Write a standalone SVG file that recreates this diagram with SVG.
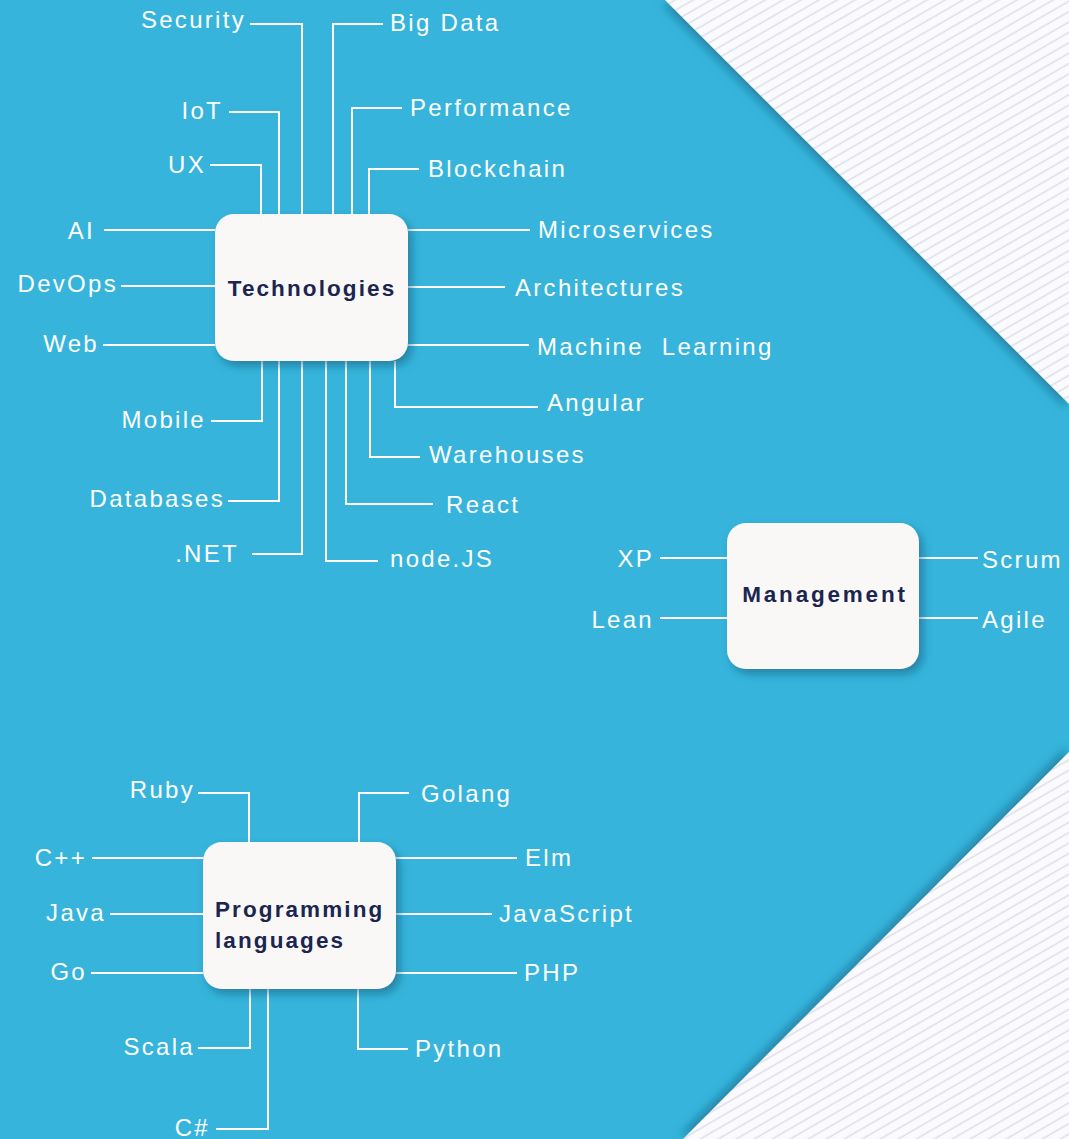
<svg xmlns="http://www.w3.org/2000/svg" width="1069" height="1139" viewBox="0 0 1069 1139">
<defs>
<pattern id="stripes" width="9" height="9" patternUnits="userSpaceOnUse" patternTransform="rotate(-30)">
<rect width="9" height="9" fill="#fbfbfd"/>
<line x1="0" y1="4.5" x2="9" y2="4.5" stroke="#dcdce8" stroke-width="1.4"/>
</pattern>
<filter id="edgeTop" x="-20%" y="-20%" width="140%" height="140%">
<feDropShadow dx="-3" dy="4" stdDeviation="4" flood-color="#0f5f80" flood-opacity="0.55"/>
</filter>
<filter id="edgeBot" x="-20%" y="-20%" width="140%" height="140%">
<feDropShadow dx="-3" dy="-4" stdDeviation="4" flood-color="#0f5f80" flood-opacity="0.55"/>
</filter>
<filter id="boxShadow" x="-20%" y="-20%" width="140%" height="150%">
<feDropShadow dx="4" dy="5" stdDeviation="4" flood-color="#0e5a78" flood-opacity="0.55"/>
</filter>
</defs>
<style>
.lbl{fill:#ffffff;font-family:"Liberation Sans",Arial,sans-serif;font-size:24px;letter-spacing:2.3px}
.end{text-anchor:end}
.ttl{fill:#1b2550;font-family:"Liberation Sans",Arial,sans-serif;font-size:22.5px;font-weight:bold;letter-spacing:2.1px}
.box{fill:#f9f8f7;filter:url(#boxShadow)}
.con path{fill:none;stroke:#ffffff;stroke-width:2}
</style>
<rect x="0" y="0" width="1069" height="1139" fill="#36b4db"/>
<g id="background">
<polygon points="665,0 1069,0 1069,404" fill="url(#stripes)" filter="url(#edgeTop)"/>
<polygon points="1069,752 1069,1139 683,1139" fill="url(#stripes)" filter="url(#edgeBot)"/>
</g>
<g id="connectors" class="con">
<path d="M302,214 V24 H250"/>
<path d="M279,214 V112 H229"/>
<path d="M261,214 V165 H210"/>
<path d="M333,214 V24 H383"/>
<path d="M352,214 V108 H402"/>
<path d="M369,214 V169 H419"/>
<path d="M215,230 H104"/>
<path d="M215,286 H121"/>
<path d="M215,345 H103"/>
<path d="M408,230 H530"/>
<path d="M408,287 H505"/>
<path d="M408,345 H529"/>
<path d="M395,361 V407 H538"/>
<path d="M370,361 V457 H420"/>
<path d="M346,361 V504 H433"/>
<path d="M326,361 V561 H378"/>
<path d="M302,361 V554 H252"/>
<path d="M279,361 V501 H228"/>
<path d="M262,361 V421 H211"/>
<path d="M727,558 H660"/>
<path d="M727,618 H660"/>
<path d="M919,558 H978"/>
<path d="M919,618 H978"/>
<path d="M249,842 V793 H198"/>
<path d="M359,842 V793 H409"/>
<path d="M203,858 H92"/>
<path d="M203,914 H110"/>
<path d="M203,973 H91"/>
<path d="M250,989 V1048 H198"/>
<path d="M268,989 V1129 H216"/>
<path d="M358,989 V1049 H408"/>
<path d="M396,858 H517"/>
<path d="M396,914 H492"/>
<path d="M396,973 H517"/>
</g>
<g id="node-technologies">
<rect class="box" x="215" y="214" width="193" height="147" rx="19"/>
<text class="ttl" x="312" y="296" text-anchor="middle">Technologies</text>
</g>
<g id="node-management">
<rect class="box" x="727" y="523" width="192" height="146" rx="19"/>
<text class="ttl" x="825" y="602" text-anchor="middle" style="letter-spacing:2.8px">Management</text>
</g>
<g id="node-programming">
<rect class="box" x="203" y="842" width="193" height="147" rx="19"/>
<text class="ttl" x="215" y="917">Programming</text>
<text class="ttl" x="215" y="948">languages</text>
</g>
<g id="labels">
<text class="lbl end" x="246" y="28">Security</text>
<text class="lbl end" x="223" y="119">IoT</text>
<text class="lbl end" x="206" y="173">UX</text>
<text class="lbl end" x="95" y="239">AI</text>
<text class="lbl end" x="118" y="292">DevOps</text>
<text class="lbl end" x="99" y="352">Web</text>
<text class="lbl end" x="206" y="428">Mobile</text>
<text class="lbl end" x="225" y="507">Databases</text>
<text class="lbl end" x="239" y="562">.NET</text>
<text class="lbl" x="390" y="31">Big Data</text>
<text class="lbl" x="410" y="116">Performance</text>
<text class="lbl" x="428" y="177">Blockchain</text>
<text class="lbl" x="538" y="238">Microservices</text>
<text class="lbl" x="515" y="296">Architectures</text>
<text class="lbl" x="537" y="355" xml:space="preserve">Machine  Learning</text>
<text class="lbl" x="547" y="411">Angular</text>
<text class="lbl" x="429" y="463">Warehouses</text>
<text class="lbl" x="446" y="513">React</text>
<text class="lbl" x="390" y="567">node.JS</text>
<text class="lbl end" x="654" y="567">XP</text>
<text class="lbl end" x="654" y="628">Lean</text>
<text class="lbl" x="982" y="568">Scrum</text>
<text class="lbl" x="982" y="628">Agile</text>
<text class="lbl end" x="195" y="798">Ruby</text>
<text class="lbl" x="421" y="802">Golang</text>
<text class="lbl end" x="87" y="866">C++</text>
<text class="lbl end" x="106" y="921">Java</text>
<text class="lbl end" x="87" y="980">Go</text>
<text class="lbl end" x="195" y="1055">Scala</text>
<text class="lbl end" x="210" y="1136">C#</text>
<text class="lbl" x="415" y="1057">Python</text>
<text class="lbl" x="525" y="866">Elm</text>
<text class="lbl" x="499" y="922">JavaScript</text>
<text class="lbl" x="524" y="981">PHP</text>
</g>
</svg>
